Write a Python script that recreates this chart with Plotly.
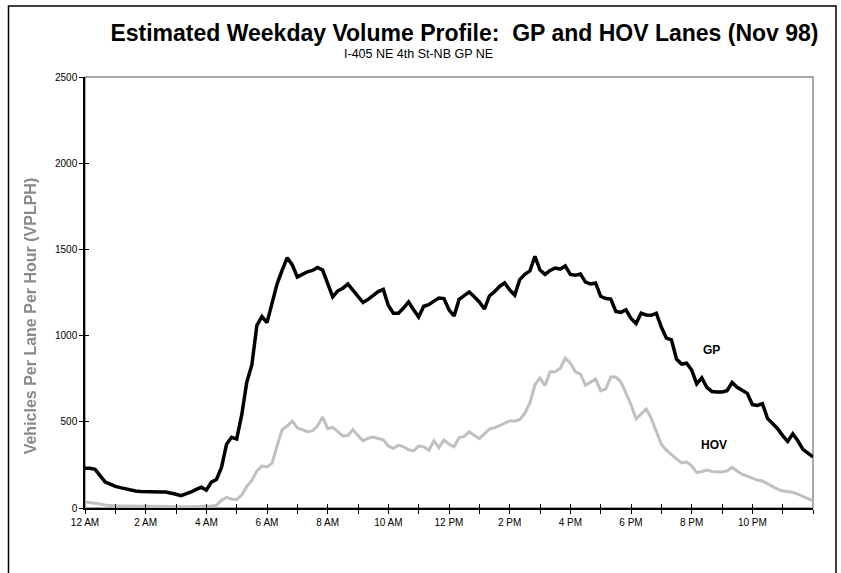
import plotly.graph_objects as go

# Time of day in 10-minute steps (hours after midnight)
minutes = list(range(0, 1441, 10))
hours = [m / 60 for m in minutes]

# General-purpose lane volume (vehicles per lane per hour)
gp_volume = [
    230, 230, 224, 185, 150, 138, 125, 118, 110, 104, 99, 96, 94, 93, 93, 93, 93, 88, 80, 72,
    82, 93, 108, 120, 104, 150, 165, 235, 370, 410, 400, 540, 730, 830, 1060, 1110, 1075, 1180, 1300, 1380,
    1452, 1410, 1340, 1355, 1370, 1378, 1395, 1380, 1300, 1225, 1259, 1275, 1299, 1262, 1230, 1192, 1210, 1235, 1255, 1268,
    1175, 1130, 1130, 1160, 1195, 1150, 1108, 1170, 1180, 1200, 1218, 1215, 1150, 1114, 1210, 1232, 1253, 1225, 1195, 1154,
    1230, 1255, 1285, 1305, 1265, 1235, 1325, 1355, 1375, 1460, 1380, 1355, 1378, 1392, 1386, 1404, 1355, 1350, 1357, 1310,
    1300, 1305, 1228, 1215, 1212, 1140, 1135, 1150, 1100, 1070, 1130, 1120, 1118, 1130, 1050, 985, 975, 864, 835, 840,
    800, 720, 755, 700, 676, 673, 673, 680, 728, 700, 683, 665, 600, 595, 605, 520, 490, 460, 420, 386,
    430, 390, 340, 315, 296,
]

# HOV lane volume (vehicles per lane per hour)
hov_volume = [
    35, 32, 28, 23, 18, 14, 12, 12, 12, 11, 11, 11, 11, 10, 10, 9, 8, 8, 7, 6,
    7, 7, 8, 8, 9, 11, 15, 45, 62, 52, 50, 75, 125, 160, 215, 243, 238, 260, 360, 455,
    475, 505, 465, 452, 443, 447, 476, 528, 460, 468, 445, 418, 420, 455, 420, 389, 405, 412, 403, 395,
    360, 345, 365, 355, 338, 331, 360, 355, 335, 390, 350, 395, 370, 355, 408, 415, 441, 420, 402, 430,
    458, 465, 478, 492, 505, 505, 512, 550, 610, 715, 755, 710, 790, 790, 810, 870, 840, 790, 777, 712,
    730, 748, 680, 690, 760, 760, 731, 670, 600, 516, 545, 574, 520, 440, 370, 335, 308, 285, 262, 267,
    244, 205, 212, 220, 212, 209, 209, 215, 236, 215, 195, 185, 172, 162, 157, 140, 125, 110, 99, 96,
    92, 80, 66, 55, 42,
]

# Axis ticks
x_tick_vals = list(range(0, 25))
x_tick_text = ["12 AM", "", "2 AM", "", "4 AM", "", "6 AM", "", "8 AM", "", "10 AM", "",
               "12 PM", "", "2 PM", "", "4 PM", "", "6 PM", "", "8 PM", "", "10 PM", "", ""]
y_tick_vals = [0, 500, 1000, 1500, 2000, 2500]

FONT = "Liberation Sans, Arial, sans-serif"

fig = go.Figure()

fig.add_trace(go.Scatter(
    x=hours, y=hov_volume, mode="lines", name="HOV",
    line=dict(color="#c0c0c0", width=3), hoverinfo="skip",
))
fig.add_trace(go.Scatter(
    x=hours, y=gp_volume, mode="lines", name="GP",
    line=dict(color="black", width=3.5), hoverinfo="skip",
))
# carrier trace so the overlay axes (inner half of the crossing ticks) are drawn
fig.add_trace(go.Scatter(
    x=[0], y=[0], mode="lines", xaxis="x2", yaxis="y2",
    line=dict(width=0), showlegend=False, hoverinfo="skip",
))

axis_font = dict(family=FONT, size=10, color="black")

fig.update_layout(
    width=841, height=573,
    margin=dict(l=84.5, r=28.3, t=77, b=64.5, pad=0),
    paper_bgcolor="white", plot_bgcolor="white",
    showlegend=False,
    title=dict(
        text="Estimated Weekday Volume Profile:  GP and HOV Lanes (Nov 98)",
        x=0.5523, xanchor="center", xref="container",
        y=0.942, yanchor="middle", yref="container",
        font=dict(family=FONT, size=23, color="black", weight="bold"),
    ),
    xaxis=dict(
        range=[0, 24], tickmode="array", tickvals=x_tick_vals, ticktext=x_tick_text,
        ticks="outside", ticklen=4, tickwidth=1, tickcolor="black",
        showline=True, linecolor="black", linewidth=1.5,
        showgrid=False, zeroline=False, tickfont=axis_font, fixedrange=True,
    ),
    yaxis=dict(
        range=[0, 2500], tickmode="array", tickvals=y_tick_vals,
        ticks="outside", ticklen=4, tickwidth=1, tickcolor="black",
        showline=True, linecolor="black", linewidth=1.5,
        showgrid=False, zeroline=False, tickfont=axis_font, fixedrange=True,
    ),
    xaxis2=dict(
        overlaying="x", anchor="y2", range=[0, 24], tickmode="array", tickvals=x_tick_vals,
        ticks="inside", ticklen=4, tickwidth=1, tickcolor="black",
        showticklabels=False, showline=False, showgrid=False, zeroline=False, fixedrange=True,
    ),
    yaxis2=dict(
        overlaying="y", anchor="x2", range=[0, 2500], tickmode="array", tickvals=y_tick_vals,
        ticks="inside", ticklen=4, tickwidth=1, tickcolor="black",
        showticklabels=False, showline=False, showgrid=False, zeroline=False, fixedrange=True,
    ),
    shapes=[
        # plot-area frame
        dict(type="rect", xref="paper", yref="paper", x0=0, x1=1, y0=0, y1=1,
             line=dict(color="#8c8c8c", width=1.5), layer="below"),
        # chart-area frame
        dict(type="rect", xref="paper", yref="paper",
             x0=-0.1051, x1=1.0316, y0=-0.25, y1=1.1646,
             line=dict(color="black", width=1.5), layer="below"),
    ],
    annotations=[
        dict(text="I-405 NE 4th St-NB GP NE", xref="paper", yref="paper",
             x=0.458, y=1.053, xanchor="center", yanchor="middle", showarrow=False,
             font=dict(family=FONT, size=12.5, color="black")),
        dict(text="Vehicles Per Lane Per Hour (VPLPH)", xref="paper", yref="paper",
             x=-0.0748, y=0.446, xanchor="center", yanchor="middle", textangle=-90,
             showarrow=False,
             font=dict(family=FONT, size=16, color="#8a8a8a", weight="bold")),
        dict(text="GP", x=20.67, y=918, xref="x", yref="y", showarrow=False,
             xanchor="center", yanchor="middle",
             font=dict(family=FONT, size=12, color="black", weight="bold")),
        dict(text="HOV", x=20.72, y=368, xref="x", yref="y", showarrow=False,
             xanchor="center", yanchor="middle",
             font=dict(family=FONT, size=12, color="black", weight="bold")),
    ],
)

# the axis title is printed soft in the report graphic
soften_axis_title = (
    "var gd = document.getElementById('{plot_id}');"
    "var a = gd.querySelector('.annotation[data-index=\"1\"]');"
    "if (a) { a.style.filter = 'blur(0.7px)'; }"
)

fig.write_html("out.html", post_script=soften_axis_title)
